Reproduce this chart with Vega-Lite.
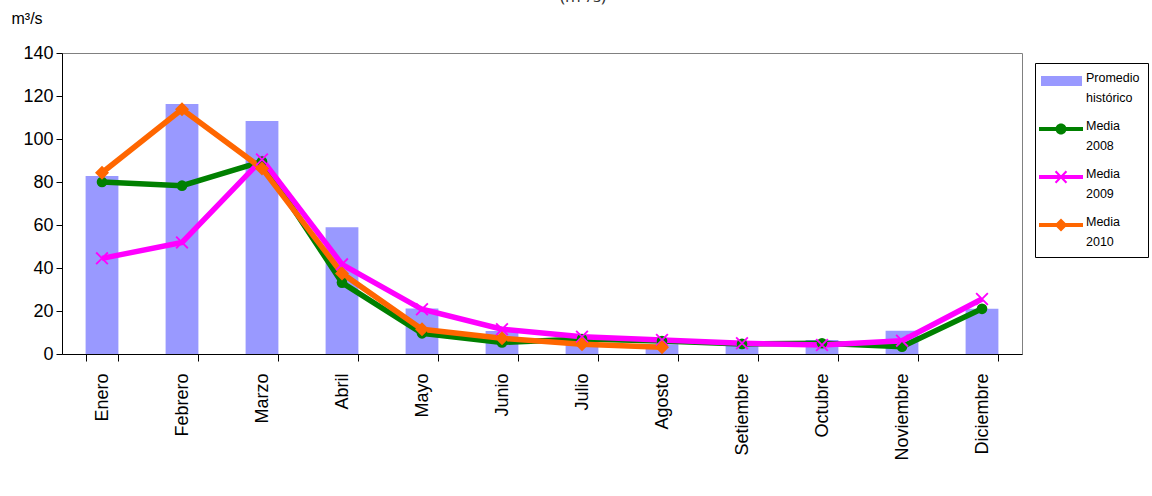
{
  "$schema": "https://vega.github.io/schema/vega-lite/v6.json",
  "width": 960,
  "height": 301,
  "autosize": "none",
  "padding": {"left": 62, "top": 53, "right": 130, "bottom": 142},
  "background": "white",
  "title": {
    "text": "(m³/s)",
    "anchor": "middle",
    "frame": "group",
    "dx": 41,
    "dy": 9,
    "offset": 0,
    "font": "Open Sans",
    "fontSize": 17,
    "fontWeight": "normal",
    "color": "#333333",
    "baseline": "alphabetic"
  },
  "data": {
    "values": [
      {"mes": "Enero", "serie": "Promedio histórico", "valor": 82.8},
      {"mes": "Febrero", "serie": "Promedio histórico", "valor": 116.3},
      {"mes": "Marzo", "serie": "Promedio histórico", "valor": 108.4},
      {"mes": "Abril", "serie": "Promedio histórico", "valor": 59},
      {"mes": "Mayo", "serie": "Promedio histórico", "valor": 21.2},
      {"mes": "Junio", "serie": "Promedio histórico", "valor": 10.7},
      {"mes": "Julio", "serie": "Promedio histórico", "valor": 6.5},
      {"mes": "Agosto", "serie": "Promedio histórico", "valor": 4.5},
      {"mes": "Setiembre", "serie": "Promedio histórico", "valor": 5.6},
      {"mes": "Octubre", "serie": "Promedio histórico", "valor": 6.5},
      {"mes": "Noviembre", "serie": "Promedio histórico", "valor": 10.8},
      {"mes": "Diciembre", "serie": "Promedio histórico", "valor": 21},
      {"mes": "Enero", "serie": "Media 2008", "valor": 80},
      {"mes": "Febrero", "serie": "Media 2008", "valor": 78.3},
      {"mes": "Marzo", "serie": "Media 2008", "valor": 89.5},
      {"mes": "Abril", "serie": "Media 2008", "valor": 33.2},
      {"mes": "Mayo", "serie": "Media 2008", "valor": 9.6},
      {"mes": "Junio", "serie": "Media 2008", "valor": 5.4},
      {"mes": "Julio", "serie": "Media 2008", "valor": 7},
      {"mes": "Agosto", "serie": "Media 2008", "valor": 6},
      {"mes": "Setiembre", "serie": "Media 2008", "valor": 4.7},
      {"mes": "Octubre", "serie": "Media 2008", "valor": 5},
      {"mes": "Noviembre", "serie": "Media 2008", "valor": 3.4},
      {"mes": "Diciembre", "serie": "Media 2008", "valor": 21},
      {"mes": "Enero", "serie": "Media 2009", "valor": 44.5},
      {"mes": "Febrero", "serie": "Media 2009", "valor": 51.9},
      {"mes": "Marzo", "serie": "Media 2009", "valor": 90.5},
      {"mes": "Abril", "serie": "Media 2009", "valor": 41.7},
      {"mes": "Mayo", "serie": "Media 2009", "valor": 20.8},
      {"mes": "Junio", "serie": "Media 2009", "valor": 11.5},
      {"mes": "Julio", "serie": "Media 2009", "valor": 8},
      {"mes": "Agosto", "serie": "Media 2009", "valor": 6.5},
      {"mes": "Setiembre", "serie": "Media 2009", "valor": 5},
      {"mes": "Octubre", "serie": "Media 2009", "valor": 4.2},
      {"mes": "Noviembre", "serie": "Media 2009", "valor": 6.2},
      {"mes": "Diciembre", "serie": "Media 2009", "valor": 25.6},
      {"mes": "Enero", "serie": "Media 2010", "valor": 84.3},
      {"mes": "Febrero", "serie": "Media 2010", "valor": 113.8},
      {"mes": "Marzo", "serie": "Media 2010", "valor": 86.3},
      {"mes": "Abril", "serie": "Media 2010", "valor": 37.5},
      {"mes": "Mayo", "serie": "Media 2010", "valor": 11.5},
      {"mes": "Junio", "serie": "Media 2010", "valor": 7.3},
      {"mes": "Julio", "serie": "Media 2010", "valor": 4.5},
      {"mes": "Agosto", "serie": "Media 2010", "valor": 3.1}
    ]
  },
  "encoding": {
    "x": {
      "field": "mes",
      "type": "nominal",
      "sort": ["Enero", "Febrero", "Marzo", "Abril", "Mayo", "Junio", "Julio", "Agosto", "Setiembre", "Octubre", "Noviembre", "Diciembre"],
      "scale": {"paddingInner": 0.59, "paddingOuter": 0.295},
      "axis": {
        "title": null,
        "labelAngle": -90,
        "labelAlign": "right",
        "labelBaseline": "middle",
        "labelPadding": 12,
        "labelFont": "Liberation Sans",
        "labelFontSize": 18,
        "labelColor": "black",
        "tickBand": "extent",
        "tickSize": 7,
        "tickColor": "black",
        "domainColor": "black",
        "grid": false
      }
    },
    "y": {
      "field": "valor",
      "type": "quantitative",
      "scale": {"domain": [0, 140], "nice": false},
      "axis": {
        "values": [0, 20, 40, 60, 80, 100, 120, 140],
        "title": "m³/s",
        "titleAngle": 0,
        "titleX": -51,
        "titleY": -35,
        "titleAlign": "left",
        "titleBaseline": "middle",
        "titleFont": "Liberation Sans",
        "titleFontSize": 16,
        "titleFontWeight": "normal",
        "titleColor": "black",
        "labelFont": "Liberation Sans",
        "labelFontSize": 18,
        "labelColor": "black",
        "labelPadding": 3,
        "tickSize": 6,
        "tickColor": "black",
        "domainColor": "black",
        "grid": false
      }
    }
  },
  "layer": [
    {
      "transform": [{"filter": "datum.serie === 'Promedio histórico'"}],
      "mark": {"type": "bar", "opacity": 1},
      "encoding": {
        "color": {
          "field": "serie",
          "type": "nominal",
          "scale": {
            "domain": ["Promedio histórico", "Media 2008", "Media 2009", "Media 2010"],
            "range": ["#9999ff", "#008000", "#ff00ff", "#ff6600"]
          },
          "legend": {
            "title": null,
            "orient": "none",
            "legendX": 973,
            "legendY": 10,
            "strokeColor": "black",
            "padding": 8,
            "labelFont": "Liberation Sans",
            "labelFontSize": 12.5,
            "labelColor": "black",
            "labelOffset": 23,
            "labelBaseline": "top",
            "rowPadding": 14,
            "symbolSize": 400,
            "symbolStrokeWidth": 0,
            "symbolOpacity": 1,
            "labelExpr": "split(datum.label, ' ')",
            "encode": {
              "labels": {"update": {"lineHeight": {"value": 20}, "dy": {"value": -9}}},
              "symbols": {
                "update": {
                  "shape": {"signal": "datum.value === 'Promedio histórico' ? 'M-1.2,-0.5H2.9V0.5H-1.2Z' : datum.value === 'Media 2008' ? 'M-1.4,-0.2H3V0.2H-1.4Z M1.35,0A0.55,0.55 0 1,1 0.25,0A0.55,0.55 0 1,1 1.35,0Z' : datum.value === 'Media 2009' ? 'M-1.4,-0.2H3V0.2H-1.4Z M0.18,-0.5L0.33,-0.65L1.42,0.5L1.27,0.65Z M1.27,-0.65L1.42,-0.5L0.33,0.65L0.18,0.5Z' : 'M-1.4,-0.2H3V0.2H-1.4Z M0.15,0L0.8,-0.65L1.45,0L0.8,0.65Z'"},
                  "fill": {"scale": "color", "field": "value"},
                  "strokeWidth": {"value": 0}
                }
              }
            }
          }
        }
      }
    },
    {
      "transform": [{"filter": "datum.serie !== 'Promedio histórico'"}],
      "mark": {"type": "line", "strokeWidth": 5.5},
      "encoding": {
        "color": {"field": "serie", "type": "nominal"}
      }
    },
    {
      "transform": [{"filter": "datum.serie === 'Media 2008'"}],
      "mark": {"type": "point", "shape": "circle", "filled": true, "size": 113, "color": "#008000", "opacity": 1, "strokeWidth": 0}
    },
    {
      "transform": [{"filter": "datum.serie === 'Media 2009'"}],
      "mark": {"type": "point", "shape": "M-1,-0.8L-0.8,-1L1,0.8L0.8,1Z M0.8,-1L1,-0.8L-0.8,1L-1,0.8Z", "filled": true, "size": 169, "color": "#ff00ff", "opacity": 1, "strokeWidth": 0}
    },
    {
      "transform": [{"filter": "datum.serie === 'Media 2010'"}],
      "mark": {"type": "point", "shape": "diamond", "filled": true, "size": 196, "color": "#ff6600", "opacity": 1, "strokeWidth": 0}
    }
  ],
  "config": {
    "font": "Liberation Sans",
    "view": {"stroke": "#808080", "strokeWidth": 1}
  }
}
